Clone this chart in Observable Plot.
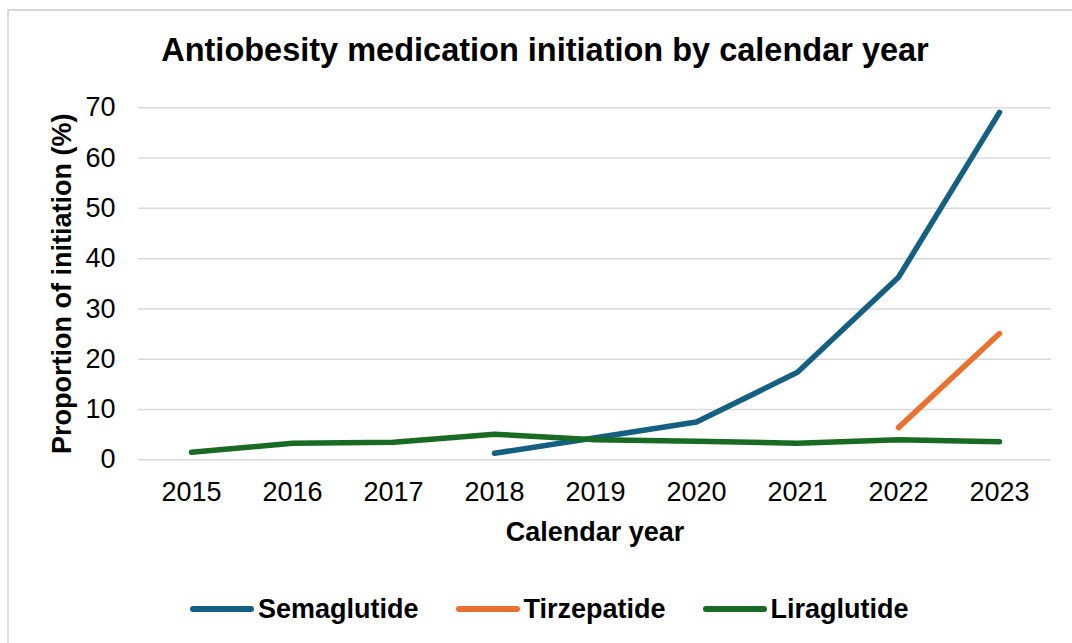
<!DOCTYPE html>
<html>
<head>
<meta charset="utf-8">
<script src="https://cdn.jsdelivr.net/npm/d3@7"></script>
<script src="https://cdn.jsdelivr.net/npm/@observablehq/plot@0.6"></script>
<style>
  html, body { margin: 0; padding: 0; background: #fff; overflow: hidden; }
  body { width: 1072px; height: 643px; position: relative; font-family: "Liberation Sans", Arial, sans-serif; }
  #frame { position: absolute; left: 7px; top: 9px; width: 1200px; height: 800px; border-top: 2.5px solid #d9d9d9; border-left: 2.5px solid #d9d9d9; }
  #title { position: relative; height: 80px; box-sizing: border-box; padding-top: 34px; padding-left: 18px; line-height: 32px; font-size: 32.5px; font-weight: bold; text-align: center; color: #000; }
  #chart { position: relative; height: 480px; }
  #legend { position: relative; height: 98px; display: flex; align-items: center; padding-left: 190px; font-size: 27px; font-weight: bold; color: #000; }
  .item { display: flex; align-items: center; margin-right: 37px; }
  .sw { width: 64px; height: 6px; border-radius: 3px; margin-right: 4px; }
</style>
</head>
<body>
<div id="frame"></div>
<div id="title"></div>
<div id="chart"></div>
<div id="legend"></div>
<script>
const titleText = "Antiobesity medication initiation by calendar year";
const xLabel = "Calendar year";
const yLabel = "Proportion of initiation (%)";
const years = ["2015", "2016", "2017", "2018", "2019", "2020", "2021", "2022", "2023"];
const yTicks = [0, 10, 20, 30, 40, 50, 60, 70];
const seriesNames = ["Semaglutide", "Tirzepatide", "Liraglutide"];
const seriesColors = ["#156082", "#E97132", "#196B24"];
const semaglutide = [null, null, null, 1.3, 4.4, 7.5, 17.4, 36.3, 69.1];
const tirzepatide = [null, null, null, null, null, null, null, 6.4, 25.1];
const liraglutide = [1.5, 3.3, 3.5, 5.1, 4.0, 3.7, 3.3, 4.0, 3.6];
const seriesValues = [semaglutide, tirzepatide, liraglutide];

document.getElementById("title").textContent = titleText;

const toRows = (vals) => years.map((y, i) => ({year: y, value: vals[i]})).filter(d => d.value != null);

const lineMarks = seriesValues.map((vals, i) =>
  Plot.line(toRows(vals), {
    x: "year", y: "value",
    stroke: seriesColors[i], strokeWidth: 5.5,
    strokeLinecap: "round", strokeLinejoin: "round"
  })
);

const plot = Plot.plot({
  width: 1072,
  height: 480,
  marginLeft: 138,
  marginRight: 21,
  marginTop: 27.3,
  marginBottom: 100.7,
  style: { fontFamily: '"Liberation Sans", Arial, sans-serif', fontSize: "27px", color: "#000", background: "transparent", overflow: "visible" },
  x: { type: "point", domain: years, padding: 0.5 },
  y: { domain: [0, 70] },
  marks: [
    Plot.gridY(yTicks, { stroke: "#d9d9d9", strokeOpacity: 1, strokeWidth: 1.5 }),
    Plot.axisX({ tickSize: 0, tickPadding: 22, label: null }),
    Plot.axisY(yTicks, { tickSize: 0, tickPadding: 23, label: null }),
    Plot.text([xLabel], { text: d => d, frameAnchor: "bottom", dy: 81, fontWeight: "bold", fill: "#000" }),
    Plot.text([yLabel], { text: d => d, frameAnchor: "left", textAnchor: "middle", rotate: -90, dx: -76.6, fontWeight: "bold", fill: "#000" }),
    ...lineMarks
  ]
});
document.getElementById("chart").appendChild(plot);

const legend = document.getElementById("legend");
seriesNames.forEach((name, i) => {
  const item = document.createElement("div");
  item.className = "item";
  const sw = document.createElement("div");
  sw.className = "sw";
  sw.style.background = seriesColors[i];
  const lab = document.createElement("span");
  lab.textContent = name;
  item.appendChild(sw);
  item.appendChild(lab);
  legend.appendChild(item);
});
</script>
</body>
</html>
